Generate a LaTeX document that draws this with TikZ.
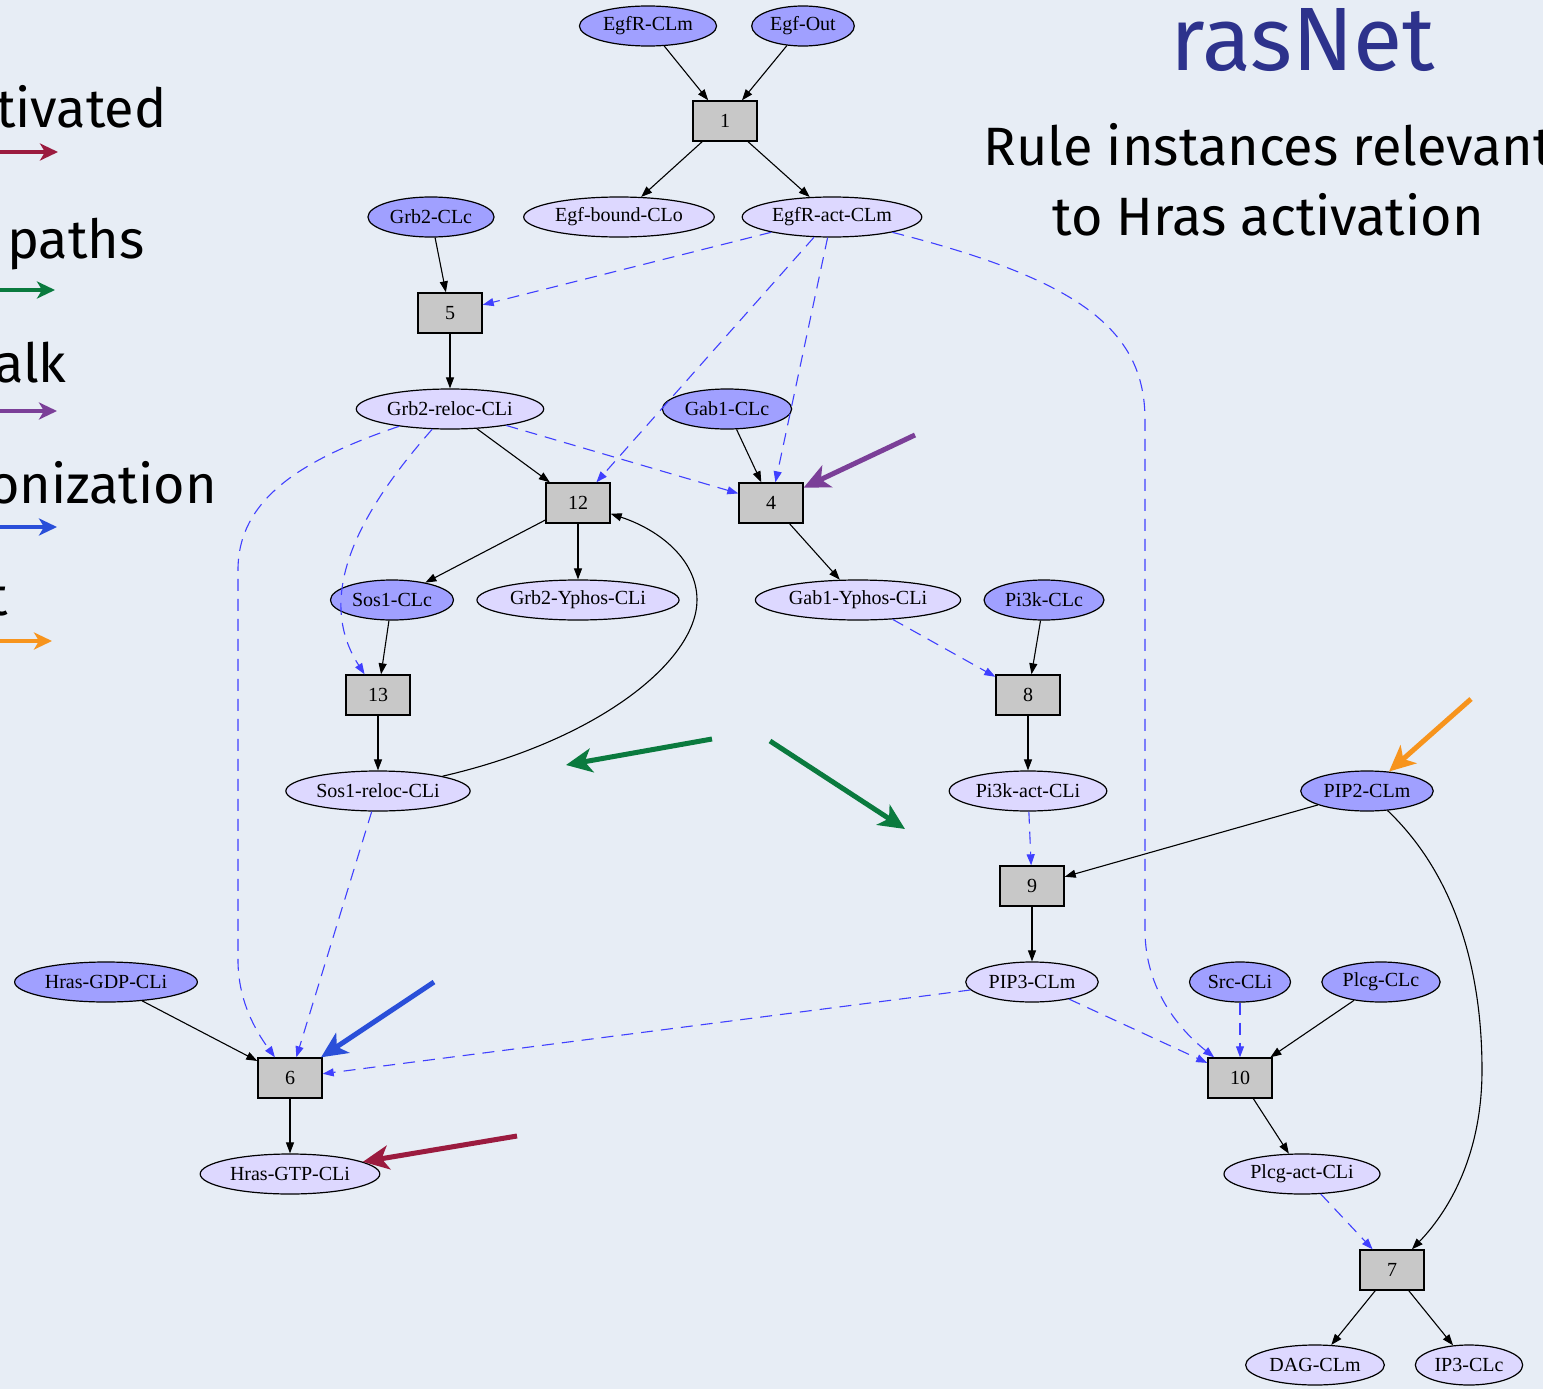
\documentclass[tikz,border=0pt]{standalone}
\usepackage{fontspec}
\setmainfont{Liberation Serif}
\newfontfamily\slidefont{Fira Sans}
\usetikzlibrary{arrows.meta,shapes.geometric}
\definecolor{paper}{RGB}{231,237,245}
\definecolor{molin}{RGB}{160,160,255}
\definecolor{molout}{RGB}{221,216,255}
\definecolor{rulegray}{RGB}{200,200,200}
\definecolor{depblue}{RGB}{64,64,255}
\definecolor{hrasred}{RGB}{155,27,63}
\definecolor{altgreen}{RGB}{10,122,62}
\definecolor{talkpurple}{RGB}{123,63,152}
\definecolor{syncblue}{RGB}{42,79,217}
\definecolor{inorange}{RGB}{247,148,29}
\definecolor{titleblue}{RGB}{45,50,140}
\tikzset{
  mol/.style={ellipse, draw, line width=1.2pt, inner xsep=3.5pt, inner ysep=1pt,
    minimum height=40pt, font=\fontsize{20}{22}\selectfont},
  srcmol/.style={mol, fill=molin},
  newmol/.style={mol, fill=molout},
  rule/.style={rectangle, draw, line width=1.4pt, fill=rulegray,
    minimum width=64pt, minimum height=40pt, font=\fontsize{20}{22}\selectfont},
  edge/.style={line width=1.1pt, -{Triangle[length=11pt,width=8pt]}},
  dep/.style={edge, depblue, dash pattern=on 12pt off 8pt},
  hint/.style={line width=5pt, -{Stealth[length=26pt,width=24pt,inset=7pt]}},
  keyarrow/.style={line width=4pt, -{Stealth[length=18pt,width=17pt,inset=5pt]}},
  slide/.style={font=\slidefont\fontsize{54}{70}\selectfont, inner sep=0pt}
}

\begin{document}
\begin{tikzpicture}[x=1pt,y=-1pt]
  \useasboundingbox (0,0) rectangle (1543,1389);
  \clip (0,0) rectangle (1543,1389);
  \fill [paper] (0,0) rectangle (1543,1389);

  % title
  \node [slide, font=\slidefont\fontsize{90}{96}\selectfont, titleblue] (title) at (1303,40) {rasNet};
  \node [slide, align=center] (subtitle) at (1268,180) {Rule instances relevant\\to Hras activation};

  % legend, cut at the left edge
  \node [slide, anchor=base west] (lgact) at (-4,128) {tivated};
  \node [slide, anchor=base west] (lgalt) at (7,258) {paths};
  \node [slide, anchor=base west] (lgtalk) at (-6,382) {alk};
  \node [slide, anchor=base west] (lgsync) at (-12,503) {onization};
  \node [slide, anchor=base west] (lgin) at (-12,615) {t};
  \coordinate (ka) at (-20,152);  \coordinate (kb) at (58,152);
  \coordinate (kc) at (-20,290);  \coordinate (kd) at (55,290);
  \coordinate (ke) at (-20,411);  \coordinate (kf) at (57,411);
  \coordinate (kg) at (-20,527);  \coordinate (kh) at (57,527);
  \coordinate (ki) at (-20,641);  \coordinate (kj) at (52,641);
  \draw [keyarrow, hrasred] (ka) -- (kb);
  \draw [keyarrow, altgreen] (kc) -- (kd);
  \draw [keyarrow, talkpurple] (ke) -- (kf);
  \draw [keyarrow, syncblue] (kg) -- (kh);
  \draw [keyarrow, inorange] (ki) -- (kj);

  % species and rules
  \node [srcmol] (egfr) at (648,26) {EgfR-CLm};
  \node [srcmol] (egfout) at (803,26) {Egf-Out};
  \node [rule] (r1) at (725,121) {1};
  \node [newmol] (egfb) at (619,217) {Egf-bound-CLo};
  \node [newmol] (egfract) at (832,217) {EgfR-act-CLm};
  \node [srcmol] (grb2) at (431,217) {Grb2-CLc};
  \node [rule] (r5) at (450,313) {5};
  \node [newmol] (grb2r) at (450,409) {Grb2-reloc-CLi};
  \node [srcmol] (gab1) at (727,409) {Gab1-CLc};
  \node [rule] (r12) at (578,503) {12};
  \node [rule] (r4) at (771,503) {4};
  \node [srcmol] (sos1) at (392,600) {Sos1-CLc};
  \node [newmol] (grb2y) at (578,600) {Grb2-Yphos-CLi};
  \node [newmol] (gab1y) at (858,600) {Gab1-Yphos-CLi};
  \node [srcmol] (pi3k) at (1044,600) {Pi3k-CLc};
  \node [rule] (r13) at (378,695) {13};
  \node [rule] (r8) at (1028,695) {8};
  \node [newmol] (sos1r) at (378,791) {Sos1-reloc-CLi};
  \node [newmol] (pi3ka) at (1028,791) {Pi3k-act-CLi};
  \node [srcmol] (pip2) at (1367,791) {PIP2-CLm};
  \node [rule] (r9) at (1032,886) {9};
  \node [srcmol] (hrasgdp) at (106,982) {Hras-GDP-CLi};
  \node [newmol] (pip3) at (1032,982) {PIP3-CLm};
  \node [srcmol] (src) at (1240,982) {Src-CLi};
  \node [srcmol] (plcg) at (1381,982) {Plcg-CLc};
  \node [rule] (r6) at (290,1078) {6};
  \node [rule] (r10) at (1240,1078) {10};
  \node [newmol] (hrasgtp) at (290,1174) {Hras-GTP-CLi};
  \node [newmol] (plcga) at (1302,1174) {Plcg-act-CLi};
  \node [rule] (r7) at (1392,1270) {7};
  \node [newmol] (dag) at (1315,1365) {DAG-CLm};
  \node [newmol] (ip3) at (1469,1365) {IP3-CLc};

  % reactants and products
  \draw [edge] (egfr) -- (r1);
  \draw [edge] (egfout) -- (r1);
  \draw [edge] (r1) -- (egfb);
  \draw [edge] (r1) -- (egfract);
  \draw [edge] (grb2) -- (r5);
  \draw [edge] (r5) -- (grb2r);
  \draw [edge] (grb2r) -- (r12);
  \draw [edge] (gab1) -- (r4);
  \draw [edge] (r12) -- (sos1);
  \draw [edge] (r12) -- (grb2y);
  \draw [edge] (r4) -- (gab1y);
  \draw [edge] (sos1) -- (r13);
  \draw [edge] (r13) -- (sos1r);
  \draw [edge] (sos1r) .. controls (600,740) and (697,660) .. (697,600)
    .. controls (697,560) and (660,530) .. (r12);
  \draw [edge] (pi3k) -- (r8);
  \draw [edge] (r8) -- (pi3ka);
  \draw [edge] (pip2) -- (r9);
  \draw [edge] (r9) -- (pip3);
  \draw [edge] (pip2) .. controls (1450,870) and (1482,960) .. (1482,1070)
    .. controls (1482,1160) and (1445,1215) .. (r7);
  \draw [edge] (hrasgdp) -- (r6);
  \draw [edge] (r6) -- (hrasgtp);
  \draw [edge] (plcg) -- (r10);
  \draw [edge] (r10) -- (plcga);
  \draw [edge] (r7) -- (dag);
  \draw [edge] (r7) -- (ip3);

  % enabling dependencies
  \draw [dep] (egfract) -- (r5);
  \draw [dep] (egfract) -- (r12);
  \draw [dep] (egfract) -- (r4);
  \draw [dep] (egfract) .. controls (1080,280) and (1145,330) .. (1145,420)
    -- (1145,930) .. controls (1145,990) and (1180,1030) .. (r10);
  \draw [dep] (grb2r) -- (r4);
  \draw [dep] (grb2r) .. controls (370,500) and (310,590) .. (r13);
  \draw [dep] (grb2r) .. controls (300,460) and (238,500) .. (238,570)
    -- (238,960) .. controls (238,1000) and (255,1030) .. (r6);
  \draw [dep] (gab1y) -- (r8);
  \draw [dep] (sos1r) -- (r6);
  \draw [dep] (pi3ka) -- (r9);
  \draw [dep] (pip3) -- (r6);
  \draw [dep] (pip3) -- (r10);
  \draw [dep] (src) -- (r10);
  \draw [dep] (plcga) -- (r7);

  % pointers
  \coordinate (talk) at (915,435);
  \coordinate (alta) at (712,739);  \coordinate (altb) at (566,765);
  \coordinate (altc) at (770,741);  \coordinate (altd) at (905,829);
  \coordinate (input) at (1471,699);
  \coordinate (sync) at (434,982);
  \coordinate (goal) at (517,1136);
  \draw [hint, talkpurple] (talk) -- (r4);
  \draw [hint, altgreen] (alta) -- (altb);
  \draw [hint, altgreen] (altc) -- (altd);
  \draw [hint, inorange] (input) -- (pip2);
  \draw [hint, syncblue] (sync) -- (r6);
  \draw [hint, hrasred] (goal) -- (hrasgtp);
\end{tikzpicture}
\end{document}
